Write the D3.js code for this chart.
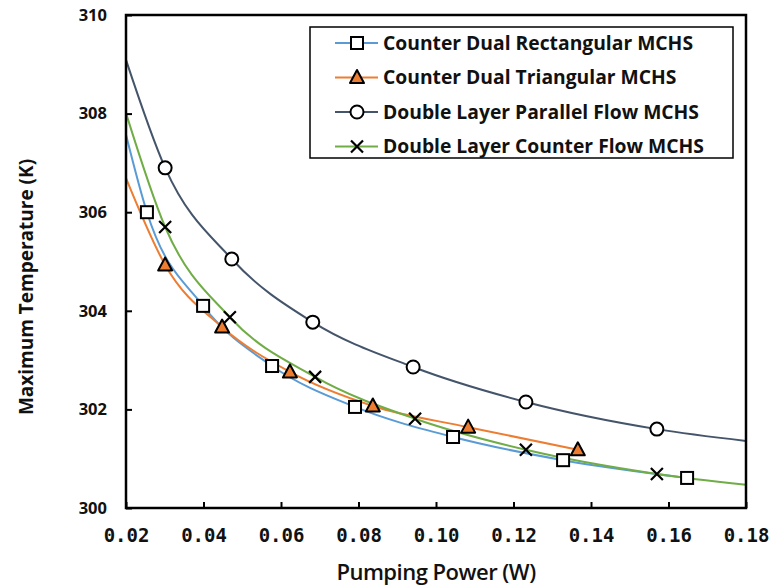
<!DOCTYPE html>
<html lang="en">
<head>
<meta charset="UTF-8">
<title>Maximum Temperature vs Pumping Power</title>
<script src="https://d3js.org/d3.v7.min.js"></script>
<style>
  body { margin: 0; background: #fff; }
  svg { display: block; }
</style>
</head>
<body>
<svg id="chart" width="773" height="588"></svg>
<script>
  // series names
  var seriesNames = [
    "Counter Dual Rectangular MCHS",
    "Counter Dual Triangular MCHS",
    "Double Layer Parallel Flow MCHS",
    "Double Layer Counter Flow MCHS"
  ];

  // measured points (pumping power W, max temperature K)
  var rectPower = [0.0254, 0.0399, 0.0577, 0.0791, 0.1044, 0.1328, 0.1648];
  var rectTemp  = [306.00, 304.10, 302.88, 302.05, 301.44, 300.97, 300.61];

  var triPower = [0.0301, 0.0448, 0.0623, 0.0837, 0.1083, 0.1366];
  var triTemp  = [304.93, 303.67, 302.76, 302.07, 301.64, 301.18];

  var parPower = [0.0301, 0.0473, 0.0682, 0.0941, 0.1232, 0.1570];
  var parTemp  = [306.90, 305.05, 303.77, 302.86, 302.15, 301.60];

  var cntPower = [0.0301, 0.0468, 0.0688, 0.0946, 0.1232, 0.1570];
  var cntTemp  = [305.70, 303.87, 302.66, 301.81, 301.18, 300.69];

  // where each curve starts / ends (read at the axis edges)
  var curveStartTemp = [307.57, 306.69, 309.09, 308.01];   // at 0.02 W
  var curveEndTemp   = [null, null, 301.36, 300.47];       // at 0.18 W

  var xTicks = [0.02, 0.04, 0.06, 0.08, 0.10, 0.12, 0.14, 0.16, 0.18];
  var yTicks = [300, 302, 304, 306, 308, 310];

  var colors = ["#5B9BD5", "#ED7D31", "#44546A", "#70AD47"];
  var markers = ["square", "triangle", "circle", "cross"];

  var svg = d3.select("#chart"),
    width = +svg.attr("width"),
    height = +svg.attr("height");

  var margin = {top: 15, right: 27, bottom: 80, left: 126};
  var w = width - margin.left - margin.right,
      h = height - margin.top - margin.bottom;

  var x = d3.scaleLinear().domain([0.02, 0.18]).range([0, w]);
  var y = d3.scaleLinear().domain([300, 310]).range([h, 0]);

  var g = svg.append("g").attr("transform", "translate(" + margin.left + "," + margin.top + ")");

  var allPower = [rectPower, triPower, parPower, cntPower];
  var allTemp = [rectTemp, triTemp, parTemp, cntTemp];

  var series = seriesNames.map(function(name, i) {
    var pts = allPower[i].map(function(p, j) { return {p: p, t: allTemp[i][j]}; });
    var line = [{p: 0.02, t: curveStartTemp[i]}].concat(pts);
    if (curveEndTemp[i] != null) line.push({p: 0.18, t: curveEndTemp[i]});
    return {name: name, pts: pts, line: line, color: colors[i], marker: markers[i]};
  });

  var lineGen = d3.line()
    .x(function(d) { return x(d.p); })
    .y(function(d) { return y(d.t); })
    .curve(d3.curveMonotoneX);

  // curves
  g.selectAll(".curve")
    .data(series)
    .enter()
    .append("path")
      .attr("class", "curve")
      .attr("d", function(d) { return lineGen(d.line); })
      .attr("fill", "none")
      .attr("stroke", function(d) { return d.color; })
      .attr("stroke-width", 2);

  function drawMarker(sel, type) {
    if (type == "square") {
      sel.append("rect").attr("x", -6).attr("y", -6).attr("width", 12).attr("height", 12)
        .attr("fill", "#fff").attr("stroke", "#000").attr("stroke-width", 2);
    } else if (type == "triangle") {
      sel.append("path").attr("d", "M0,-7.5L7,5.5L-7,5.5Z")
        .attr("fill", "#ED7D31").attr("stroke", "#000").attr("stroke-width", 2)
        .attr("stroke-linejoin", "round");
    } else if (type == "circle") {
      sel.append("circle").attr("r", 6.5)
        .attr("fill", "#fff").attr("stroke", "#000").attr("stroke-width", 2);
    } else {
      sel.append("path").attr("d", "M-6,-6L6,6M-6,6L6,-6")
        .attr("stroke", "#000").attr("stroke-width", 2.2);
    }
  }

  // markers
  series.forEach(function(s) {
    g.selectAll(null)
      .data(s.pts)
      .enter()
      .append("g")
        .attr("transform", function(d) { return "translate(" + x(d.p) + "," + y(d.t) + ")"; })
        .each(function() { drawMarker(d3.select(this), s.marker); });
  });

  // axes
  var xAxis = g.append("g")
    .attr("transform", "translate(0," + h + ")")
    .call(d3.axisBottom(x).tickValues(xTicks).tickFormat(d3.format(".2f"))
      .tickSizeInner(-6).tickSizeOuter(0).tickPadding(21));
  xAxis.selectAll("text")
    .style("font-family", "'DejaVu Sans Mono', monospace")
    .style("font-weight", "bold")
    .style("font-size", "19px")
    .attr("fill", "#111");

  var yAxis = g.append("g")
    .call(d3.axisLeft(y).tickValues(yTicks).tickFormat(d3.format("d"))
      .tickSizeInner(-6).tickSizeOuter(0).tickPadding(19));
  yAxis.selectAll("text")
    .style("font-family", "'Open Sans', sans-serif")
    .style("font-weight", "700")
    .style("font-size", "16.5px")
    .attr("fill", "#111");

  g.selectAll(".tick line").attr("stroke", "#000").attr("stroke-width", 2);
  g.selectAll(".domain").remove();

  // plot frame
  g.append("rect")
    .attr("width", w).attr("height", h)
    .attr("fill", "none").attr("stroke", "#000").attr("stroke-width", 2.5);

  // axis titles
  svg.append("text")
    .attr("x", margin.left + w / 2)
    .attr("y", 580)
    .attr("text-anchor", "middle")
    .style("font-family", "'Open Sans', sans-serif")
    .style("font-weight", "600")
    .style("font-size", "22px")
    .style("letter-spacing", "-0.5px")
    .attr("fill", "#111")
    .text("Pumping Power (W)");

  svg.append("text")
    .attr("transform", "translate(33,287) rotate(-90)")
    .attr("text-anchor", "middle")
    .style("font-family", "'Open Sans', sans-serif")
    .style("font-weight", "700")
    .style("font-size", "19px")
    .attr("fill", "#111")
    .text("Maximum Temperature (K)");

  // legend
  var legend = svg.append("g").attr("transform", "translate(310,27)");
  legend.append("rect")
    .attr("width", 423).attr("height", 131)
    .attr("fill", "#fff").attr("stroke", "#000").attr("stroke-width", 1.5);

  var item = legend.selectAll(".item")
    .data(series)
    .enter()
    .append("g")
      .attr("class", "item")
      .attr("transform", function(d, i) { return "translate(0," + (16 + i * 34.5) + ")"; });

  item.append("line")
    .attr("x1", 25).attr("x2", 68)
    .attr("stroke", function(d) { return d.color; })
    .attr("stroke-width", 2);
  item.each(function(d) { drawMarker(d3.select(this).append("g").attr("transform", "translate(47,0)"), d.marker); });
  item.append("text")
    .attr("x", 73)
    .attr("dy", "0.35em")
    .style("font-family", "'Open Sans', sans-serif")
    .style("font-weight", "700")
    .style("font-size", "19.3px")
    .attr("fill", "#111")
    .text(function(d) { return d.name; });
</script>
</body>
</html>
